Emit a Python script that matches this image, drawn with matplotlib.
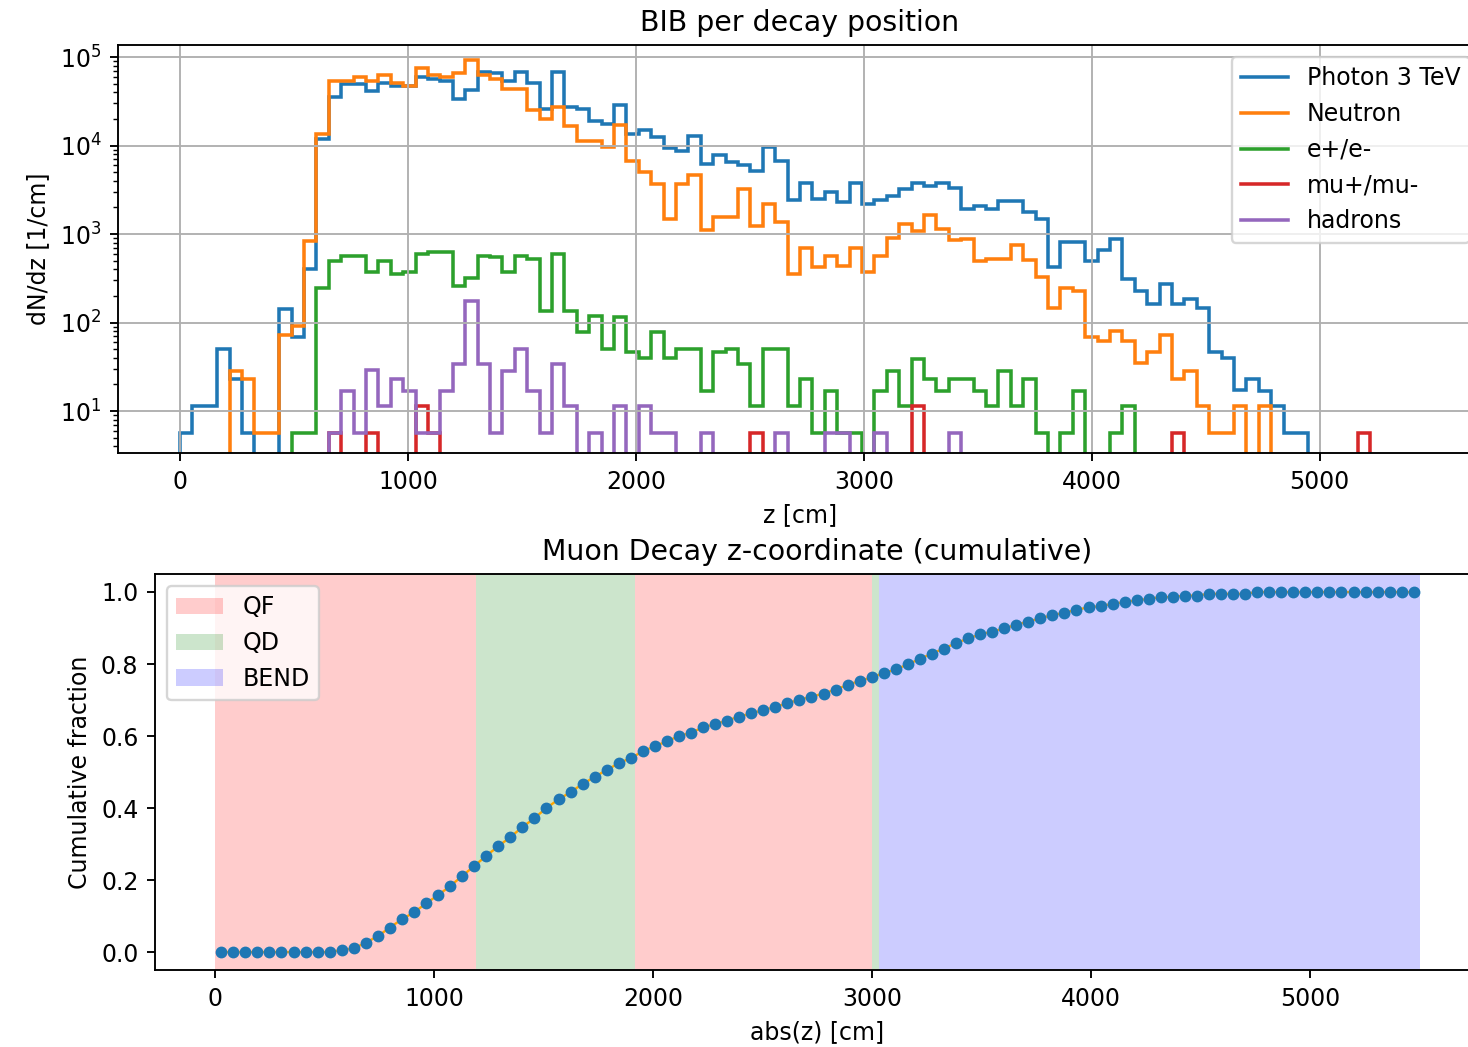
import matplotlib
matplotlib.use("Agg")
import matplotlib.pyplot as plt
import numpy as np

# histogram binning along z [cm]
z_edges = np.linspace(0, 5440, 101)

# dN/dz per bin [1/cm]
photon = [5.7, 11.5, 11.5, 50, 23, 5.7, 0, 0, 142, 68,
          408, 1.2e4, 3.5e4, 4.95e4, 4.95e4, 4.1e4, 5.1e4, 4.7e4, 4.7e4, 5.9e4,
          5.7e4, 5.4e4, 3.4e4, 4.2e4, 6.7e4, 6.6e4, 5.4e4, 6.8e4, 5.1e4, 2.6e4,
          6.8e4, 2.7e4, 2.6e4, 1.9e4, 1.75e4, 2.9e4, 1.35e4, 1.5e4, 1.24e4, 9.3e3,
          8.7e3, 1.29e4, 6.2e3, 7.8e3, 6.5e3, 6.0e3, 5.2e3, 9.6e3, 6.7e3, 2.4e3,
          3.8e3, 2.5e3, 2.96e3, 2.3e3, 3.8e3, 2.2e3, 2.4e3, 2.7e3, 3.2e3, 3.8e3,
          3.5e3, 3.8e3, 3.3e3, 1.9e3, 2.1e3, 1.9e3, 2.35e3, 2.35e3, 1.76e3, 1.5e3,
          427, 805, 805, 500, 660, 875, 310, 229, 162, 272,
          162, 184, 145, 46, 40, 17.4, 23, 17, 11.5, 5.7,
          5.7, 0, 0, 0, 0, 0, 0, 0, 0, 0]
neutron = [0, 0, 0, 0, 28.5, 23, 5.7, 5.7, 72, 92,
           835, 1.35e4, 5.4e4, 5.4e4, 5.9e4, 5.4e4, 6.3e4, 5.1e4, 4.7e4, 7.6e4,
           6.3e4, 5.9e4, 6.6e4, 9.2e4, 6.3e4, 5.7e4, 4.4e4, 4.4e4, 2.5e4, 2.0e4,
           2.7e4, 1.66e4, 1.13e4, 1.13e4, 9.6e3, 1.7e4, 6.7e3, 5.0e3, 3.7e3, 1.48e3,
           3.7e3, 4.6e3, 1.1e3, 1.58e3, 1.58e3, 3.2e3, 1.24e3, 2.2e3, 1.38e3, 353,
           705, 420, 569, 437, 690, 375, 569, 914, 1.29e3, 1.07e3,
           1.64e3, 1.14e3, 863, 880, 500, 521, 521, 751, 515, 331,
           145, 243, 229, 68, 62, 81, 62, 35, 46, 72,
           23, 28.5, 11.5, 5.7, 5.7, 11.5, 0, 11.5, 0, 0,
           0, 0, 0, 0, 0, 0, 0, 0, 0, 0]
electron = [0, 0, 0, 0, 0, 0, 0, 0, 0, 5.7,
            5.7, 243, 500, 569, 569, 375, 500, 353, 375, 594,
            630, 630, 261, 316, 569, 546, 375, 560, 521, 136,
            594, 136, 78, 119, 50, 116, 46, 40, 78, 40,
            50, 50, 17, 46, 50, 34, 11.5, 50, 50, 11.5,
            23, 5.7, 17, 5.7, 5.7, 0, 17, 28.5, 11.5, 38.7,
            23, 17, 23, 23, 17, 11.5, 28.5, 11.5, 23, 5.7,
            0, 5.7, 17, 0, 0, 5.7, 11.5, 0, 0, 0,
            0, 0, 0, 0, 0, 0, 0, 0, 0, 0,
            0, 0, 0, 0, 0, 0, 0, 0, 0, 0]
muon = [0, 0, 0, 0, 0, 0, 0, 0, 0, 0,
        0, 0, 5.7, 0, 0, 5.7, 0, 0, 0, 11.5,
        5.7, 0, 0, 0, 0, 0, 0, 0, 0, 0,
        0, 0, 0, 0, 0, 0, 0, 0, 0, 0,
        0, 0, 0, 0, 0, 0, 5.7, 0, 0, 0,
        0, 0, 0, 0, 0, 0, 0, 0, 0, 11.5,
        0, 0, 0, 0, 0, 0, 0, 0, 0, 0,
        0, 0, 0, 0, 0, 0, 0, 0, 0, 0,
        5.7, 0, 0, 0, 0, 0, 0, 0, 0, 0,
        0, 0, 0, 0, 0, 5.7, 0, 0, 0, 0]
hadrons = [0, 0, 0, 0, 0, 0, 0, 0, 0, 0,
           0, 0, 5.7, 17, 5.7, 29, 11.5, 23, 17, 5.7,
           5.7, 17, 34, 176, 34, 5.7, 28.5, 50, 17, 5.7,
           34, 11.5, 0, 5.7, 0, 11.5, 0, 11.5, 5.7, 5.7,
           0, 0, 5.7, 0, 0, 0, 0, 0, 5.7, 0,
           0, 0, 5.7, 5.7, 0, 0, 5.7, 0, 0, 0,
           0, 0, 5.7, 0, 0, 0, 0, 0, 0, 0,
           0, 0, 0, 0, 0, 0, 0, 0, 0, 0,
           0, 0, 0, 0, 0, 0, 0, 0, 0, 0,
           0, 0, 0, 0, 0, 0, 0, 0, 0, 0]
species = [("Photon 3 TeV", photon), ("Neutron", neutron), ("e+/e-", electron),
           ("mu+/mu-", muon), ("hadrons", hadrons)]

# cumulative muon decay fraction vs |z|
abs_z_edges = np.linspace(0, 5500, 101)
cum_frac = [0.0, 0.0, 0.0, 0.0, 0.0, 0.0, 0.0, 0.0, 0.0, 0.0,
            0.005, 0.010, 0.026, 0.044, 0.068, 0.091, 0.110, 0.135, 0.158, 0.183,
            0.211, 0.239, 0.267, 0.294, 0.319, 0.347, 0.372, 0.400, 0.424, 0.444,
            0.467, 0.486, 0.506, 0.524, 0.539, 0.557, 0.572, 0.585, 0.600, 0.609,
            0.624, 0.633, 0.643, 0.654, 0.663, 0.672, 0.681, 0.691, 0.701, 0.709,
            0.718, 0.729, 0.742, 0.753, 0.763, 0.775, 0.785, 0.799, 0.814, 0.829,
            0.843, 0.858, 0.871, 0.882, 0.890, 0.899, 0.909, 0.918, 0.927, 0.936,
            0.942, 0.951, 0.957, 0.961, 0.967, 0.972, 0.977, 0.981, 0.986, 0.986,
            0.990, 0.990, 0.995, 0.995, 0.995, 0.995, 1.0, 1.0, 1.0, 1.0,
            1.0, 1.0, 1.0, 1.0, 1.0, 1.0, 1.0, 1.0, 1.0, 1.0]

# lattice elements along the beamline
magnet_start = [0, 1190, 1915, 3000, 3030]
magnet_end = [1190, 1915, 3000, 3030, 5500]
magnet_type = ["QF", "QD", "QF", "QD", "BEND"]
magnet_color = {"QF": "red", "QD": "green", "BEND": "blue"}

W, H, DPI = 1468, 1047, 170
fig = plt.figure(figsize=(W / DPI, H / DPI), dpi=DPI)

ax1 = fig.add_axes([118 / W, 1 - 453 / H, (1482 - 118) / W, (453 - 45) / H])
for label, vals in species:
    ax1.stairs(vals, z_edges, label=label, linewidth=1.5)
ax1.set_yscale("log")
ax1.set_ylim(3.36, 1.37e5)
ax1.set_xlabel("z [cm]")
ax1.set_ylabel("dN/dz [1/cm]")
ax1.set_title("BIB per decay position")
ax1.legend(loc="upper right")
ax1.grid(True)

ax2 = fig.add_axes([155 / W, 1 - 970 / H, (1480 - 155) / W, (970 - 574) / H])
seen = set()
for a, b, kind in zip(magnet_start, magnet_end, magnet_type):
    ax2.axvspan(a, b, color=magnet_color[kind], alpha=0.2,
                label=kind if kind not in seen else None, linewidth=0)
    seen.add(kind)
centers = 0.5 * (abs_z_edges[:-1] + abs_z_edges[1:])
ax2.plot(centers, cum_frac, color="orange", linewidth=1)
ax2.plot(centers, cum_frac, "o", color="C0", markersize=4)
ax2.set_xlabel("abs(z) [cm]")
ax2.set_ylabel("Cumulative fraction")
ax2.set_title("Muon Decay z-coordinate (cumulative)")
ax2.legend(loc="upper left")

fig.savefig("out.png", dpi=DPI)
